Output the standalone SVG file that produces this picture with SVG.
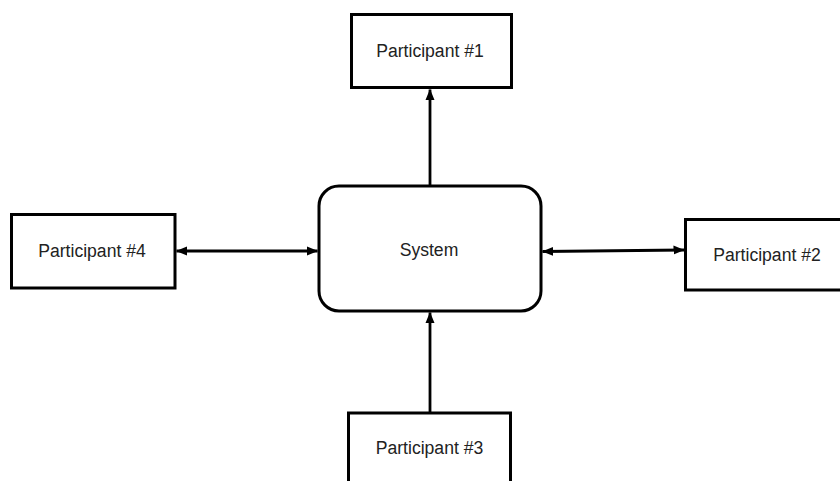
<svg xmlns="http://www.w3.org/2000/svg" width="840" height="481" viewBox="0 0 840 481">
<style>
.box{fill:#fff;stroke:#000;stroke-width:3}
.lbl{font-family:"Liberation Sans",Arial,sans-serif;font-size:17.6px;fill:#222;text-anchor:middle}
.conn{stroke:#000;stroke-width:2.8;fill:none}
</style>
<defs>
<marker id="ah" markerUnits="userSpaceOnUse" markerWidth="11" markerHeight="10" refX="10.5" refY="5" orient="auto-start-reverse" viewBox="0 0 11 10">
<path d="M0,0.5 L11,5 L0,9.5 Z" fill="#000"/>
</marker>
</defs>
<rect width="840" height="481" fill="#fff"/>
<g id="connectors">
<line class="conn" x1="430" y1="186" x2="430" y2="89.5" marker-end="url(#ah)"/>
<line class="conn" x1="430" y1="413" x2="430" y2="312.5" marker-end="url(#ah)"/>
<line class="conn" x1="176.5" y1="251" x2="317.5" y2="251" marker-start="url(#ah)" marker-end="url(#ah)"/>
<line class="conn" x1="542.5" y1="251.5" x2="684" y2="250" marker-start="url(#ah)" marker-end="url(#ah)"/>
</g>
<g id="system">
<rect class="box" x="319" y="186" width="222" height="125" rx="20" ry="20"/>
<text class="lbl" x="429" y="256">System</text>
</g>
<g id="participant1">
<rect class="box" x="351.5" y="14.5" width="160" height="73"/>
<text class="lbl" x="430" y="57">Participant #1</text>
</g>
<g id="participant2">
<rect class="box" x="685.5" y="219.5" width="160" height="70.5"/>
<text class="lbl" x="767" y="261">Participant #2</text>
</g>
<g id="participant3">
<rect class="box" x="348.5" y="413" width="162" height="80"/>
<text class="lbl" x="429.5" y="454">Participant #3</text>
</g>
<g id="participant4">
<rect class="box" x="11.5" y="214.5" width="163.5" height="73.5"/>
<text class="lbl" x="92" y="257">Participant #4</text>
</g>
</svg>
